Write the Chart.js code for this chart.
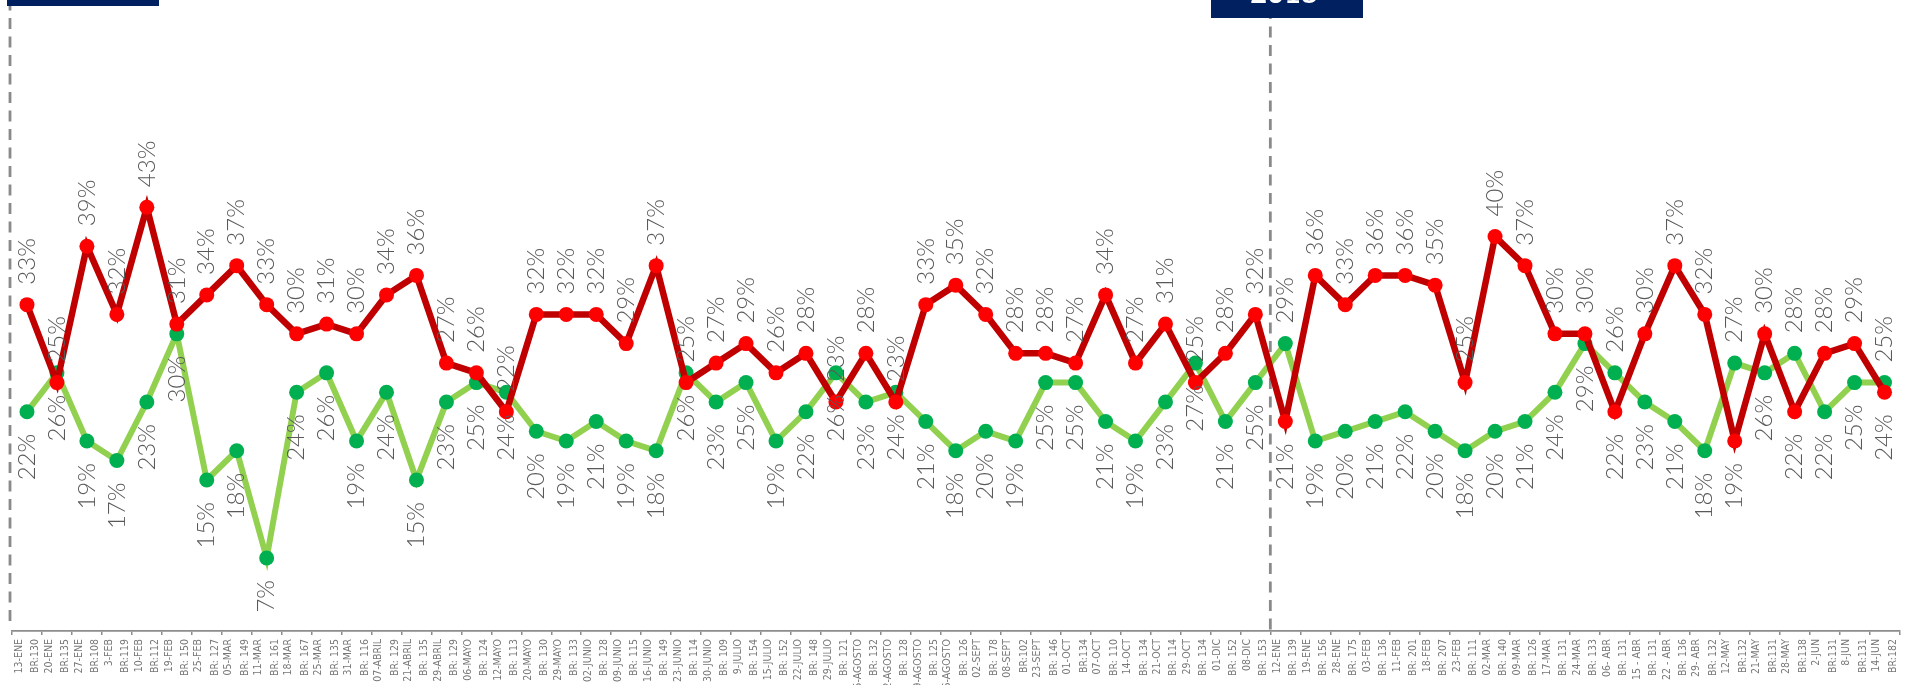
<!DOCTYPE html>
<html lang="es">
<head>
<meta charset="utf-8">
<title>Evolución semanal</title>
<script src="https://cdn.jsdelivr.net/npm/chart.js@4.4.1/dist/chart.umd.min.js"></script>
<style>
  html, body { margin: 0; padding: 0; background: #fff; }
  canvas { display: block; }
</style>
</head>
<body>
<canvas id="grafico" width="1907" height="685"></canvas>
<script>
// Fechas de medición (2018 y luego 2019)
const fechas = [
    '13-ENE', '20-ENE', '27-ENE', '3-FEB', '10-FEB', '19-FEB', '25-FEB', '05-MAR', '11-MAR', '18-MAR', '25-MAR',
    '31-MAR', '07-ABRIL', '21-ABRIL', '29-ABRIL', '06-MAYO', '12-MAYO', '20-MAYO', '29-MAYO', '02-JUNIO', '09-JUNIO',
    '16-JUNIO', '23-JUNIO', '30-JUNIO', '9-JULIO', '15-JULIO', '22-JULIO', '29-JULIO', '05-AGOSTO', '12-AGOSTO', '19-AGOSTO', '26-AGOSTO',
    '02-SEPT', '08-SEPT', '23-SEPT', '01-OCT', '07-OCT', '14-OCT', '21-OCT', '29-OCT', '01-DIC', '08-DIC',
    '12-ENE', '19-ENE', '28-ENE', '03-FEB', '11-FEB', '18-FEB', '23-FEB', '02-MAR', '09-MAR', '17-MAR', '24-MAR',
    '06- ABR', '15 - ABR', '22 - ABR', '29- ABR', '12-MAY', '21-MAY', '28-MAY', '2-JUN', '8-JUN', '14-JUN'
];

// Base de respuestas de cada semana
const bases = [
    'BR:130', 'BR:135', 'BR:108', 'BR:119', 'BR:112', 'BR: 150', 'BR: 127', 'BR: 149', 'BR: 161', 'BR: 167', 'BR: 135',
    'BR: 116', 'BR: 129', 'BR: 135', 'BR: 129', 'BR: 124', 'BR: 113', 'BR: 130', 'BR: 133', 'BR: 128', 'BR: 115',
    'BR: 149', 'BR: 114', 'BR: 109', 'BR: 154', 'BR: 152', 'BR: 148', 'BR: 121', 'BR: 132', 'BR: 128', 'BR: 125', 'BR: 126',
    'BR: 178', 'BR:102', 'BR: 146', 'BR:134', 'BR: 110', 'BR: 134', 'BR: 114', 'BR: 134', 'BR: 152', 'BR: 153',
    'BR: 139', 'BR: 156', 'BR: 175', 'BR: 136', 'BR: 201', 'BR: 207', 'BR: 111', 'BR: 140', 'BR: 126', 'BR: 131', 'BR: 133',
    'BR: 131', 'BR: 131', 'BR: 136', 'BR: 132', 'BR:132', 'BR:131', 'BR:138', 'BR:131', 'BR:131', 'BR:182'
];

// Porcentajes por semana
const pctRojo = [
    33, 25, 39, 32, 43, 31, 34, 37, 33, 30, 31,
    30, 34, 36, 27, 26, 22, 32, 32, 32, 29,
    37, 25, 27, 29, 26, 28, 23, 28, 23, 33, 35,
    32, 28, 28, 27, 34, 27, 31, 25, 28, 32,
    21, 36, 33, 36, 36, 35, 25, 40, 37, 30, 30,
    22, 30, 37, 32, 19, 30, 22, 28, 29, 24
];

const pctVerde = [
    22, 26, 19, 17, 23, 30, 15, 18, 7, 24, 26,
    19, 24, 15, 23, 25, 24, 20, 19, 21, 19,
    18, 26, 23, 25, 19, 22, 26, 23, 24, 21, 18,
    20, 19, 25, 25, 21, 19, 23, 27, 21, 25,
    29, 19, 20, 21, 22, 20, 18, 20, 21, 24, 29,
    26, 23, 21, 18, 27, 26, 28, 22, 25, 25
];

const INICIO_2019 = 42;   // primera semana del segundo año
const TITULO_ANIO = '2018';

const NAVY = '#002060';
const GRIS_TEXTO = '#595959';

const etiquetas = fechas.map((f, i) => [f, bases[i]]);

// Etiquetas de porcentaje giradas, encima o debajo del punto
const pluginPorcentajes = {
    id: 'porcentajes',
    afterDatasetsDraw(chart) {
        const ctx = chart.ctx;
        ctx.save();
        ctx.font = '300 24px Lato, "Open Sans", sans-serif';
        ctx.fillStyle = GRIS_TEXTO;
        ctx.textBaseline = 'middle';
        chart.data.datasets.forEach((ds, d) => {
            const meta = chart.getDatasetMeta(d);
            meta.data.forEach((pt, i) => {
                const rojoArriba = i < INICIO_2019 || pctRojo[i] >= pctVerde[i];
                const arriba = d === 0 ? rojoArriba : !rojoArriba;
                ctx.save();
                ctx.translate(pt.x, pt.y);
                ctx.rotate(-Math.PI / 2);
                ctx.textAlign = arriba ? 'left' : 'right';
                ctx.fillText(ds.data[i] + '%', arriba ? 20 : -22, 0);
                ctx.restore();
            });
        });
        ctx.restore();
    }
};

// Líneas punteadas de separación y recuadros de año
const pluginDecoracion = {
    id: 'decoracion',
    beforeDatasetsDraw(chart) {
        const ctx = chart.ctx;
        const x = chart.scales.x;
        const area = chart.chartArea;
        const corte = (x.getPixelForValue(INICIO_2019 - 1) + x.getPixelForValue(INICIO_2019)) / 2;

        ctx.save();
        ctx.strokeStyle = '#8a8a8a';
        ctx.lineWidth = 2.8;
        ctx.setLineDash([11, 7.5]);

        ctx.lineDashOffset = 0.5;
        ctx.beginPath();
        ctx.moveTo(area.left - 2, 0);
        ctx.lineTo(area.left - 2, area.bottom - 4);
        ctx.stroke();

        ctx.lineDashOffset = -8;
        ctx.beginPath();
        ctx.moveTo(corte, 0);
        ctx.lineTo(corte, area.bottom + 6);
        ctx.stroke();
        ctx.restore();
    },
    afterDraw(chart) {
        const ctx = chart.ctx;
        ctx.save();
        ctx.fillStyle = NAVY;
        ctx.fillRect(7, 0, 152, 6);
        ctx.fillRect(1211, 0, 152, 18);
        ctx.fillStyle = '#ffffff';
        ctx.font = 'bold 29px Lato, sans-serif';
        ctx.textAlign = 'center';
        ctx.textBaseline = 'alphabetic';
        ctx.fillText(TITULO_ANIO, 1284, 3);
        ctx.restore();
    }
};

new Chart(document.getElementById('grafico'), {
    type: 'line',
    data: {
        labels: etiquetas,
        datasets: [
            {
                data: pctRojo,
                borderColor: '#C00000',
                borderWidth: 6.5,
                pointBackgroundColor: '#FF0000',
                pointBorderWidth: 0,
                pointRadius: 7.5,
                tension: 0,
                order: 0
            },
            {
                data: pctVerde,
                borderColor: '#92D050',
                borderWidth: 6,
                pointBackgroundColor: '#00B050',
                pointBorderWidth: 0,
                pointRadius: 7.5,
                tension: 0,
                order: 1
            }
        ]
    },
    options: {
        responsive: false,
        devicePixelRatio: 1,
        animation: false,
        layout: { padding: { left: 12, right: 0, top: 0, bottom: 0 } },
        plugins: { legend: { display: false }, tooltip: { enabled: false } },
        scales: {
            x: {
                offset: true,
                grid: {
                    offset: true,
                    drawOnChartArea: false,
                    drawTicks: true,
                    tickLength: 4,
                    color: '#8c8c8c',
                    lineWidth: 1.5
                },
                border: { display: true, color: '#8c8c8c', width: 1.8 },
                ticks: {
                    autoSkip: false,
                    minRotation: 90,
                    maxRotation: 90,
                    padding: 4,
                    labelOffset: -8,   // centra las dos líneas sobre la semana
                    color: '#777777',
                    font: { family: '"Liberation Sans Narrow", "DejaVu Sans Condensed", Lato, sans-serif', size: 10.5, lineHeight: 1.55 }
                },
                afterFit(scale) {
                    scale.height = 54;
                    scale.paddingLeft = 0;
                    scale.paddingRight = 0;
                }
            },
            y: { display: false, min: -0.5, max: 63.5 }
        }
    },
    plugins: [pluginDecoracion, pluginPorcentajes]
});
</script>
</body>
</html>
